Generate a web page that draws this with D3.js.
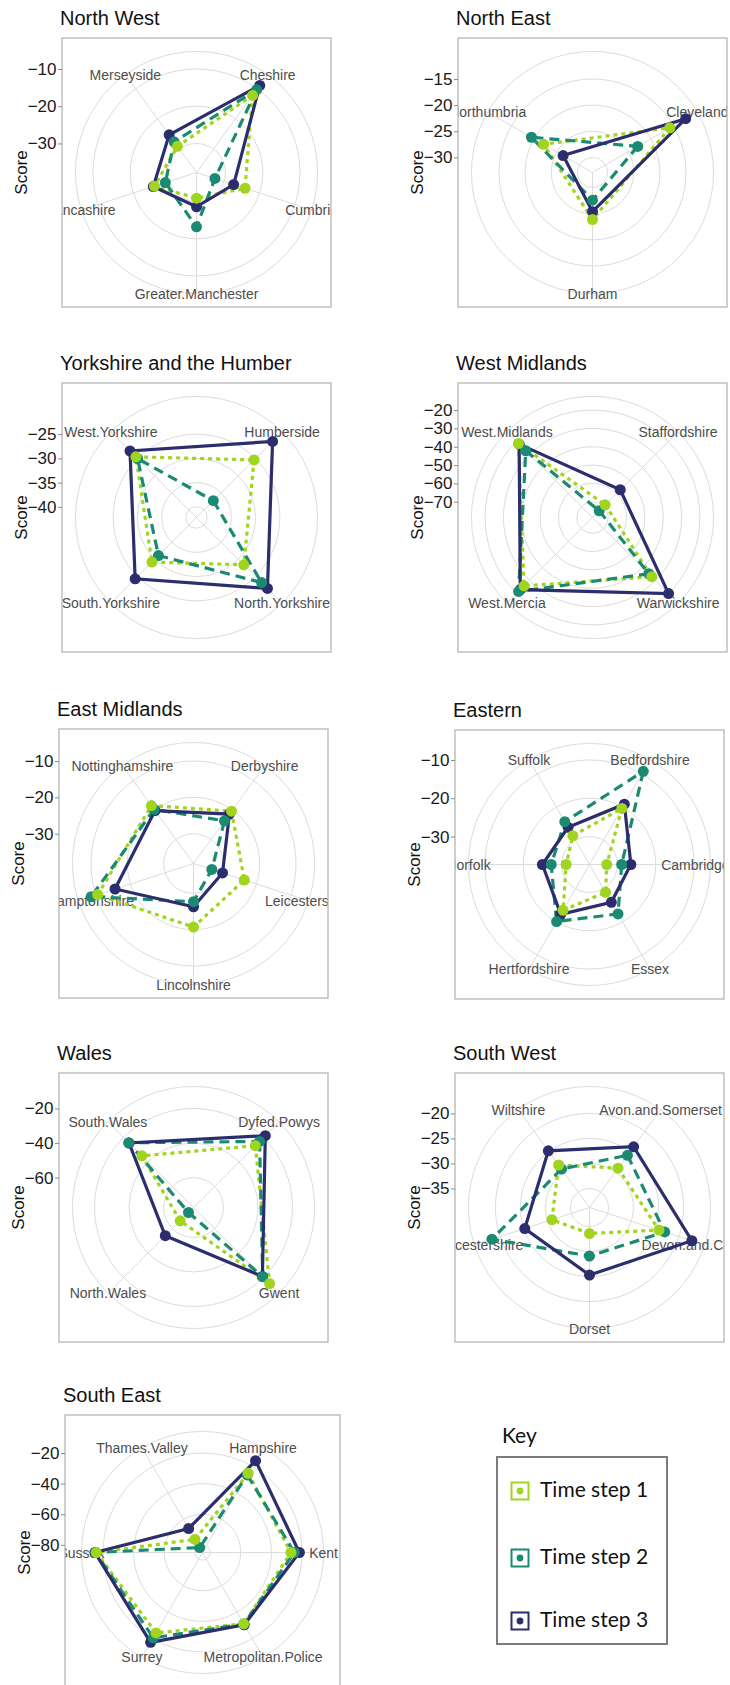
<!DOCTYPE html>
<html>
<head>
<meta charset="utf-8">
<script src="https://cdn.jsdelivr.net/npm/d3@7"></script>
<style>
  body { margin: 0; background: #fff; }
  text { font-family: "Liberation Sans", Arial, sans-serif; }
</style>
</head>
<body>
<div id="container"></div>
<script>
var svgWidth = 730;
var svgHeight = 1685;

// ---- data ----
var regions = ['North West', 'North East', 'Yorkshire and the Humber', 'West Midlands',
    'East Midlands', 'Eastern', 'Wales', 'South West', 'South East'];

var forces = [
    ['Cheshire', 'Cumbria', 'Greater.Manchester', 'Lancashire', 'Merseyside'],
    ['Cleveland', 'Durham', 'Northumbria'],
    ['Humberside', 'North.Yorkshire', 'South.Yorkshire', 'West.Yorkshire'],
    ['Staffordshire', 'Warwickshire', 'West.Mercia', 'West.Midlands'],
    ['Derbyshire', 'Leicestershire', 'Lincolnshire', 'Northamptonshire', 'Nottinghamshire'],
    ['Bedfordshire', 'Cambridgeshire', 'Essex', 'Hertfordshire', 'Norfolk', 'Suffolk'],
    ['Dyfed.Powys', 'Gwent', 'North.Wales', 'South.Wales'],
    ['Avon.and.Somerset', 'Devon.and.Cornwall', 'Dorset', 'Gloucestershire', 'Wiltshire'],
    ['Hampshire', 'Kent', 'Metropolitan.Police', 'Surrey', 'Sussex', 'Thames.Valley']
];

var step1 = [
    [-12.2, -24.1, -30.9, -25.9, -29.1],
    [-15.8, -23.9, -22.1],
    [-25.4, -28.4, -29.2, -24.5],
    [-68.8, -32.9, -25.8, -21.5],
    [-20.4, -23.5, -20.7, -10.5, -18.5],
    [-20.4, -32.8, -28.9, -23.5, -31.2, -28.6],
    [-26.7, -15.0, -66.4, -35.0],
    [-29.1, -24.2, -33.6, -30.9, -28.3],
    [-25.3, -27.2, -31.2, -24.3, -15.6, -75.1]
];

var step2 = [
    [-10.3, -32.6, -23.2, -29.0, -27.6],
    [-22.9, -27.6, -19.4],
    [-37.3, -23.2, -31.1, -25.0],
    [-73.4, -35.2, -21.6, -27.1],
    [-23.7, -32.9, -27.7, -8.6, -19.8],
    [-9.2, -28.9, -22.4, -20.1, -27.3, -24.4],
    [-23.2, -20.6, -73.2, -24.3],
    [-25.9, -23.0, -29.1, -18.3, -29.3],
    [-26.5, -25.0, -31.0, -20.6, -15.2, -81.3]
];

var step3 = [
    [-8.9, -27.3, -28.6, -25.6, -25.3],
    [-12.3, -25.4, -26.4],
    [-20.0, -21.5, -24.3, -22.8],
    [-57.2, -19.9, -22.9, -22.0],
    [-21.4, -29.8, -26.3, -15.5, -20.2],
    [-19.1, -26.5, -25.9, -22.3, -25.0, -26.1],
    [-18.5, -20.9, -54.2, -24.5],
    [-23.8, -17.3, -25.3, -25.2, -24.8],
    [-15.7, -21.7, -30.5, -17.2, -14.7, -66.9]
];

// lowest score at the centre of each radar
var scoreFloor = [-37.8, -32.9, -42.2, -78.6, -38.2, -37.3, -77.3, -38.8, -85.0];

var scoreTicks = [
    [-30, -20, -10],
    [-30, -25, -20, -15],
    [-40, -35, -30, -25],
    [-70, -60, -50, -40, -30, -20],
    [-30, -20, -10],
    [-30, -20, -10],
    [-60, -40, -20],
    [-35, -30, -25, -20],
    [-80, -60, -40, -20]
];

var seriesNames = ['Time step 1', 'Time step 2', 'Time step 3'];

// ---- layout ----
var panelBoxes = [
    {x: 62, y: 38, size: 269}, {x: 458, y: 38, size: 269},
    {x: 62, y: 383, size: 269}, {x: 458, y: 383, size: 269},
    {x: 59, y: 729, size: 269}, {x: 455, y: 730, size: 269},
    {x: 59, y: 1073, size: 269}, {x: 455, y: 1073, size: 269},
    {x: 65, y: 1415, size: 275}
];

var seriesColors = ['#a1d41f', '#1b8a72', '#2b2d6d'];
var seriesDash = ['4,4', '10,6', null];

var plotSize = 269;
var rMax = 0.4 * plotSize;
var rOuter = 0.45 * plotSize;

var svg = d3.select('body').select('#container').append('svg')
    .attr("width", svgWidth)
    .attr("height", svgHeight);

regions.forEach(function (region, p) {
    var box = panelBoxes[p];
    var c = box.size / 2;
    var names = forces[p];
    var series = [step1[p], step2[p], step3[p]];

    var r = d3.scaleLinear()
        .domain([scoreFloor[p], d3.max(d3.merge(series))])
        .range([0, rMax]);

    var band = d3.scaleBand().domain(names).range([0, 2 * Math.PI]);
    var theta = function (name) { return band(name) + band.bandwidth() / 2; };

    var g = svg.append('g')
        .attr("transform", "translate(" + box.x + "," + box.y + ")");

    g.append('text')
        .attr('x', -2)
        .attr('y', -13)
        .style('font-size', '20px')
        .style('fill', '#111')
        .text(region);

    g.append('clipPath').attr('id', 'clip' + p)
        .append('rect')
        .attr('width', box.size)
        .attr('height', box.size);

    var inner = g.append('g').attr('clip-path', 'url(#clip' + p + ')');
    var centre = inner.append('g')
        .attr('transform', 'translate(' + c + ',' + c + ')');

    // grid circles
    centre.selectAll('.ring')
        .data(scoreTicks[p].map(function (t) { return r(t); }).concat([rOuter]))
        .enter().append('circle')
        .attr('r', function (d) { return d; })
        .style('fill', 'none')
        .style('stroke', '#dcdcdc')
        .style('stroke-width', 1);

    // spokes
    centre.selectAll('.spoke')
        .data(names)
        .enter().append('line')
        .attr('x2', function (d) { return rOuter * Math.sin(theta(d)); })
        .attr('y2', function (d) { return -rOuter * Math.cos(theta(d)); })
        .style('stroke', '#dcdcdc')
        .style('stroke-width', 1);

    // force labels
    centre.selectAll('.force')
        .data(names)
        .enter().append('text')
        .attr('x', function (d) { return rOuter * Math.sin(theta(d)); })
        .attr('y', function (d) { return -rOuter * Math.cos(theta(d)); })
        .attr('dy', '0.36em')
        .attr('text-anchor', 'middle')
        .style('font-size', '14px')
        .style('fill', '#4d4d4d')
        .text(function (d) { return d; });

    var radar = d3.lineRadial()
        .angle(function (d) { return theta(d.name); })
        .radius(function (d) { return r(d.value); })
        .curve(d3.curveLinearClosed);

    var rows = series.map(function (vals, s) {
        return vals.map(function (v, i) { return {name: names[i], value: v, s: s}; });
    });

    rows.forEach(function (row, s) {
        centre.append('path')
            .attr('d', radar(row))
            .style('fill', 'none')
            .style('stroke', seriesColors[s])
            .style('stroke-width', 3.2)
            .style('stroke-dasharray', seriesDash[s]);
    });

    rows.slice().reverse().forEach(function (row) {
        centre.selectAll(null)
            .data(row)
            .enter().append('circle')
            .attr('cx', function (d) { return r(d.value) * Math.sin(theta(d.name)); })
            .attr('cy', function (d) { return -r(d.value) * Math.cos(theta(d.name)); })
            .attr('r', 5.5)
            .style('fill', function (d) { return seriesColors[d.s]; });
    });

    g.append('rect')
        .attr('width', box.size)
        .attr('height', box.size)
        .style('fill', 'none')
        .style('stroke', '#b5b5b5')
        .style('stroke-width', 1.3);

    // score axis
    var y = d3.scaleLinear().domain(r.domain()).range([c, c - rMax]);
    var axis = g.append('g')
        .call(d3.axisLeft(y).tickValues(scoreTicks[p]).tickSize(4).tickPadding(1.5));
    axis.select('.domain').remove();
    axis.selectAll('line').style('stroke', '#8a8a8a');
    axis.selectAll('text')
        .style('font-family', '"Liberation Sans", Arial, sans-serif')
        .style('font-size', '17px')
        .style('fill', '#1a1a1a');

    g.append('text')
        .attr('transform', 'translate(-41,' + c + ') rotate(-90)')
        .attr('dy', '0.35em')
        .attr('text-anchor', 'middle')
        .style('font-size', '17px')
        .style('fill', '#111')
        .text('Score');
});

// ---- key ----
var key = svg.append('g').attr('transform', 'translate(497,1457)');
key.append('text')
    .attr('x', 5)
    .attr('y', -14)
    .style('font-family', 'Lato, "Open Sans", sans-serif')
    .style('font-size', '21px')
    .style('fill', '#111')
    .text('Key');
key.append('rect')
    .attr('width', 170)
    .attr('height', 187)
    .style('fill', 'none')
    .style('stroke', '#7c7c7c')
    .style('stroke-width', 2);

var item = key.selectAll('.item')
    .data(seriesNames)
    .enter().append('g')
    .attr('transform', function (d, i) { return 'translate(0,' + [34, 101, 164][i] + ')'; });
item.append('rect')
    .attr('x', 14.5)
    .attr('y', -8.5)
    .attr('width', 17)
    .attr('height', 17)
    .style('fill', '#fff')
    .style('stroke', function (d, i) { return seriesColors[i]; })
    .style('stroke-width', 2);
item.append('circle')
    .attr('cx', 23)
    .attr('r', 3.4)
    .style('fill', function (d, i) { return seriesColors[i]; });
item.append('text')
    .attr('x', 43)
    .attr('y', 5.5)
    .style('font-family', 'Lato, "Open Sans", sans-serif')
    .style('font-size', '21px')
    .style('fill', '#111')
    .text(function (d) { return d; });
</script>
</body>
</html>
